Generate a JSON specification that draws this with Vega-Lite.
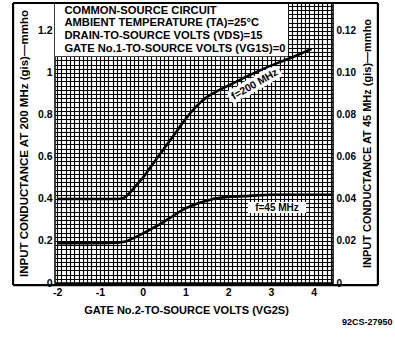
{
  "$schema": "https://vega.github.io/schema/vega-lite/v6.json",
  "width": 278,
  "height": 280,
  "autosize": {"type": "none"},
  "padding": {"left": 55, "top": 3, "right": 62, "bottom": 56},
  "background": "white",
  "config": {
    "font": "Liberation Sans",
    "view": {"stroke": "black", "strokeWidth": 1.5},
    "axis": {"labelFont": "Liberation Sans", "titleFont": "Liberation Sans", "labelFontWeight": "bold", "titleFontWeight": "bold", "labelColor": "black", "titleColor": "black"},
    "text": {"font": "Liberation Sans", "fontWeight": "bold", "color": "black"}
  },
  "datasets": {
    "g200": [
      {"vg2s": -2, "gis": 0.40}, {"vg2s": -1.5, "gis": 0.40}, {"vg2s": -1.0, "gis": 0.40},
      {"vg2s": -0.6, "gis": 0.40}, {"vg2s": -0.45, "gis": 0.405}, {"vg2s": -0.3, "gis": 0.43},
      {"vg2s": -0.15, "gis": 0.465}, {"vg2s": 0, "gis": 0.50}, {"vg2s": 0.25, "gis": 0.57},
      {"vg2s": 0.5, "gis": 0.64}, {"vg2s": 0.75, "gis": 0.71}, {"vg2s": 1.0, "gis": 0.78},
      {"vg2s": 1.25, "gis": 0.84}, {"vg2s": 1.5, "gis": 0.885}, {"vg2s": 1.75, "gis": 0.915},
      {"vg2s": 2.0, "gis": 0.94}, {"vg2s": 2.5, "gis": 0.99}, {"vg2s": 3.0, "gis": 1.035},
      {"vg2s": 3.5, "gis": 1.075}, {"vg2s": 3.95, "gis": 1.115}
    ],
    "g45": [
      {"vg2s": -2, "gis": 0.019}, {"vg2s": -1.5, "gis": 0.019}, {"vg2s": -1.0, "gis": 0.019},
      {"vg2s": -0.6, "gis": 0.0192}, {"vg2s": -0.4, "gis": 0.0198}, {"vg2s": -0.2, "gis": 0.0215},
      {"vg2s": 0, "gis": 0.0235}, {"vg2s": 0.3, "gis": 0.0268}, {"vg2s": 0.64, "gis": 0.031},
      {"vg2s": 1.0, "gis": 0.0355}, {"vg2s": 1.3, "gis": 0.038}, {"vg2s": 1.6, "gis": 0.0398},
      {"vg2s": 2.0, "gis": 0.041}, {"vg2s": 2.5, "gis": 0.0415}, {"vg2s": 3.0, "gis": 0.042},
      {"vg2s": 3.5, "gis": 0.042}, {"vg2s": 4.0, "gis": 0.042}, {"vg2s": 4.45, "gis": 0.042}
    ],
    "one": [{}]
  },
  "resolve": {"scale": {"y": "independent"}, "axis": {"x": "independent", "y": "independent"}},
  "layer": [
    {
      "resolve": {"axis": {"x": "independent", "y": "independent"}},
      "layer": [
        {
          "data": {"name": "g200"},
          "mark": {"type": "line", "color": "black", "strokeWidth": 2.6, "interpolate": "monotone"},
          "encoding": {
            "x": {
              "field": "vg2s", "type": "quantitative",
              "scale": {"domain": [-2.05, 4.45], "nice": false, "zero": false},
              "axis": {
                "orient": "bottom",
                "title": "GATE No.2-TO-SOURCE VOLTS (VG2S)",
                "titleFontSize": 11, "titlePadding": 7, "titleX": 131,
                "values": [-2,-1.9,-1.8,-1.7,-1.6,-1.5,-1.4,-1.3,-1.2,-1.1,-1,-0.9,-0.8,-0.7,-0.6,-0.5,-0.4,-0.3,-0.2,-0.1,0,0.1,0.2,0.3,0.4,0.5,0.6,0.7,0.8,0.9,1,1.1,1.2,1.3,1.4,1.5,1.6,1.7,1.8,1.9,2,2.1,2.2,2.3,2.4,2.5,2.6,2.7,2.8,2.9,3,3.1,3.2,3.3,3.4,3.5,3.6,3.7,3.8,3.9,4,4.1,4.2,4.3,4.4],
                "labelExpr": "abs(datum.value - round(datum.value)) < 0.001 ? '' + round(datum.value) : ''",
                "labelOverlap": false, "labelFlush": false, "labelBound": false,
                "labelFontSize": 10.5, "labelPadding": 4,
                "ticks": false, "tickSize": 0, "domain": false,
                "grid": true, "gridColor": "black", "gridWidth": 1.15, "gridOpacity": 1
              }
            },
            "y": {
              "field": "gis", "type": "quantitative",
              "scale": {"domain": [0, 1.3333], "nice": false, "zero": false},
              "axis": {
                "orient": "left",
                "title": "INPUT CONDUCTANCE AT 200 MHz (gis)—mmho",
                "titleFontSize": 11.5, "titlePadding": 8,
                "values": [0,0.02,0.04,0.06,0.08,0.1,0.12,0.14,0.16,0.18,0.2,0.22,0.24,0.26,0.28,0.3,0.32,0.34,0.36,0.38,0.4,0.42,0.44,0.46,0.48,0.5,0.52,0.54,0.56,0.58,0.6,0.62,0.64,0.66,0.68,0.7,0.72,0.74,0.76,0.78,0.8,0.82,0.84,0.86,0.88,0.9,0.92,0.94,0.96,0.98,1,1.02,1.04,1.06,1.08,1.1,1.12,1.14,1.16,1.18,1.2,1.22,1.24,1.26,1.28,1.3,1.32],
                "labelExpr": "abs(datum.value*5 - round(datum.value*5)) < 0.001 ? format(datum.value, '~g') : ''",
                "labelOverlap": false, "labelFlush": false, "labelBound": false,
                "labelFontSize": 10.5, "labelPadding": 3,
                "ticks": false, "tickSize": 0, "domain": false,
                "grid": true, "gridColor": "black", "gridWidth": 1.15, "gridOpacity": 1
              }
            }
          }
        },
        {
          "data": {"name": "one"},
          "mark": {"type": "rect", "fill": "white"},
          "encoding": {
            "x": {"datum": -2.05, "type": "quantitative", "axis": null},
            "x2": {"datum": 3.40},
            "y": {"datum": 1.08, "type": "quantitative", "axis": null},
            "y2": {"datum": 1.3333}
          }
        },
        {
          "data": {"name": "one"},
          "mark": {"type": "rect", "fill": "white"},
          "encoding": {
            "x": {"datum": 2.46, "type": "quantitative", "axis": null},
            "x2": {"datum": 3.82},
            "y": {"datum": 0.333, "type": "quantitative", "axis": null},
            "y2": {"datum": 0.386}
          }
        },
        {
          "data": {"name": "one"},
          "mark": {"type": "rule", "color": "black", "strokeWidth": 2.2},
          "encoding": {
            "x": {"datum": -3.03, "type": "quantitative", "axis": null},
            "y": {"datum": -0.01, "type": "quantitative", "axis": null},
            "y2": {"datum": 1.3333}
          }
        },
        {
          "data": {"name": "one"},
          "mark": {"type": "rule", "color": "black", "strokeWidth": 2.2},
          "encoding": {
            "x": {"datum": 5.5, "type": "quantitative", "axis": null},
            "y": {"datum": -0.01, "type": "quantitative", "axis": null},
            "y2": {"datum": 1.3333}
          }
        },
        {
          "data": {"name": "one"},
          "mark": {"type": "rule", "color": "black", "strokeWidth": 2.2},
          "encoding": {
            "x": {"datum": -3.03, "type": "quantitative", "axis": null},
            "x2": {"datum": 5.5},
            "y": {"datum": -0.01, "type": "quantitative", "axis": null}
          }
        },
        {
          "data": {"name": "one"},
          "mark": {"type": "rule", "color": "black", "strokeWidth": 2.2},
          "encoding": {
            "x": {"datum": -3.03, "type": "quantitative", "axis": null},
            "x2": {"datum": 5.5},
            "y": {"datum": 1.3333, "type": "quantitative", "axis": null}
          }
        },
        {
          "data": {"name": "one"},
          "mark": {"type": "text", "align": "left", "baseline": "top", "fontSize": 11.2, "lineHeight": 12.8,
                   "text": ["COMMON-SOURCE CIRCUIT", "AMBIENT TEMPERATURE (TA)=25°C", "DRAIN-TO-SOURCE VOLTS (VDS)=15", "GATE No.1-TO-SOURCE VOLTS (VG1S)=0"]},
          "encoding": {
            "x": {"datum": -1.83, "type": "quantitative", "axis": null},
            "y": {"datum": 1.326, "type": "quantitative", "axis": null}
          }
        },
        {
          "data": {"name": "one"},
          "mark": {"type": "text", "align": "center", "baseline": "middle", "fontSize": 10.5, "angle": -30,
                   "stroke": "white", "strokeWidth": 7, "strokeJoin": "round", "text": "f=200 MHz"},
          "encoding": {
            "x": {"datum": 2.62, "type": "quantitative", "axis": null},
            "y": {"datum": 0.945, "type": "quantitative", "axis": null}
          }
        },
        {
          "data": {"name": "one"},
          "mark": {"type": "text", "align": "center", "baseline": "middle", "fontSize": 10.5, "angle": -30, "text": "f=200 MHz"},
          "encoding": {
            "x": {"datum": 2.62, "type": "quantitative", "axis": null},
            "y": {"datum": 0.945, "type": "quantitative", "axis": null}
          }
        },
        {
          "data": {"name": "one"},
          "mark": {"type": "text", "align": "center", "baseline": "middle", "fontSize": 10, "text": "f=45 MHz"},
          "encoding": {
            "x": {"datum": 3.14, "type": "quantitative", "axis": null},
            "y": {"datum": 0.359, "type": "quantitative", "axis": null}
          }
        },
        {
          "data": {"name": "one"},
          "mark": {"type": "text", "align": "right", "baseline": "middle", "fontSize": 9, "text": "92CS-27950"},
          "encoding": {
            "x": {"datum": 5.84, "type": "quantitative", "axis": null},
            "y": {"datum": -0.186, "type": "quantitative", "axis": null}
          }
        }
      ]
    },
    {
      "data": {"name": "g45"},
      "mark": {"type": "line", "color": "black", "strokeWidth": 2.6, "interpolate": "monotone"},
      "encoding": {
        "x": {"field": "vg2s", "type": "quantitative", "axis": null},
        "y": {
          "field": "gis", "type": "quantitative",
          "scale": {"domain": [0, 0.13333], "nice": false, "zero": false},
          "axis": {
            "orient": "right",
            "title": "INPUT CONDUCTANCE AT 45 MHz (gis)—mmho",
            "titleFontSize": 11, "titlePadding": 6, "titleAngle": 270, "titleBaseline": "top",
            "values": [0, 0.02, 0.04, 0.06, 0.08, 0.1, 0.12],
            "labelExpr": "datum.value == 0 ? '0' : format(datum.value, '.2f')",
            "labelOverlap": false, "labelFlush": false, "labelBound": false,
            "labelFontSize": 10, "labelPadding": 3,
            "ticks": false, "tickSize": 0, "domain": false, "grid": false
          }
        }
      }
    }
  ]
}
